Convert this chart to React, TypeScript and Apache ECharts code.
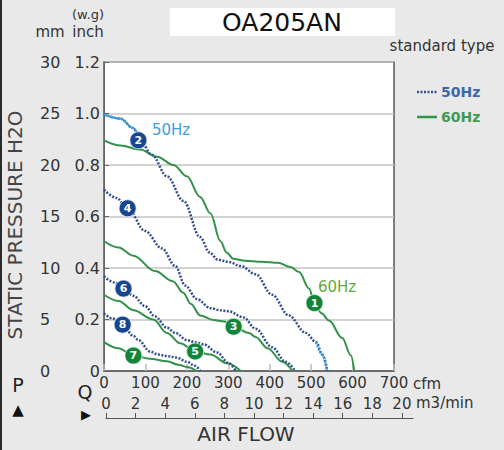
import React, { useEffect, useRef } from "react";
import * as echarts from "echarts";

// ---- data (cfm, mm H2O) ----
const curve1_60Hz = [[0,22.4],[40,21.9],[87,21.5],[128,20.8],[168,20.0],[200,18.9],[232,16.9],[257,15.3],[281,12.6],[296,11.5],[312,10.9],[340,10.7],[380,10.6],[420,10.5],[450,10.1],[471,9.6],[495,8.0],[508,6.6],[525,5.6],[543,4.9],[575,3.2],[596,1.5],[604,0]];
const curve2_50Hz = [[0,24.9],[40,24.5],[70,23.6],[90,22.2],[115,21.0],[152,18.9],[192,16.5],[232,13.0],[255,11.5],[275,10.8],[300,10.6],[330,10.2],[366,9.4],[406,7.4],[446,5.4],[487,3.7],[512,2.8],[527,1.6],[539,0]];
const curve3_60Hz = [[0,12.6],[35,12.0],[71,11.2],[123,9.7],[167,8.7],[191,7.6],[210,6.5],[232,5.4],[264,4.95],[290,4.8],[313,4.3],[350,3.7],[366,3.3],[395,2.2],[430,0.9],[455,0]];
const curve4_50Hz = [[0,17.6],[30,16.8],[57,15.8],[99,13.6],[140,11.9],[172,10.2],[196,8.3],[224,7.0],[257,6.1],[280,5.9],[300,5.8],[337,5.2],[366,4.1],[406,2.3],[438,0.9],[462,0]];
const curve5_60Hz = [[0,7.4],[35,6.8],[71,5.9],[119,5.0],[152,3.7],[184,2.7],[220,1.9],[257,1.6],[297,0.75],[330,0]];
const curve6_50Hz = [[0,9.2],[25,8.6],[47,8.0],[71,7.3],[99,6.3],[123,5.3],[152,4.2],[172,3.7],[200,3.0],[220,2.8],[240,2.6],[273,1.8],[300,0.8],[318,0]];
const curve7_60Hz = [[0,2.8],[35,2.2],[71,1.5],[111,1.2],[152,0.95],[180,0.6],[200,0.4],[224,0]];
const curve8_50Hz = [[0,5.6],[20,5.1],[45,4.5],[71,3.4],[83,3.0],[111,1.9],[130,1.6],[152,1.45],[175,1.3],[200,0.9],[220,0.5],[232,0]];

const markers = [
  { id: "1", hz: 60, at: [508, 6.6] },
  { id: "2", hz: 50, at: [83, 22.4] },
  { id: "3", hz: 60, at: [313, 4.3] },
  { id: "4", hz: 50, at: [57, 15.8] },
  { id: "5", hz: 60, at: [220, 1.9] },
  { id: "6", hz: 50, at: [47, 8.0] },
  { id: "7", hz: 60, at: [71, 1.5] },
  { id: "8", hz: 50, at: [45, 4.5] },
];

const m3Ticks = [0, 2, 4, 6, 8, 10, 12, 14, 16, 18, 20];

const FONT = "DejaVu Sans";
const GREEN = "#33914a";
const NAVY = "#33508c";
const LIGHT = "#3aa0dc";

export default function App() {
  const ref = useRef<HTMLDivElement>(null);
  useEffect(() => {
    if (!ref.current) return;
    const chart = echarts.init(ref.current, undefined, { renderer: "svg" });

    const green = (data: number[][]) => ({
      type: "line", xAxisIndex: 0, yAxisIndex: 0, data, showSymbol: false,
      smooth: 0.35, smoothMonotone: "x",
      lineStyle: { color: GREEN, width: 2 }, z: 3,
    });
    const dotted = (data: number[][], color = NAVY) => ({
      type: "line", xAxisIndex: 0, yAxisIndex: 0, data, showSymbol: false,
      smooth: 0.35, smoothMonotone: "x",
      lineStyle: { color, width: 2.5, type: [2, 1.5], cap: "butt" }, z: 3,
    });

    const option: any = {
      animation: false,
      backgroundColor: "#e9e9e9",
      textStyle: { fontFamily: FONT },
      grid: [
        { left: 104, top: 62, width: 290, height: 309, show: true, backgroundColor: "#ffffff", borderColor: "#555", borderWidth: 1.5 },
        { left: 106, top: 417, width: 307, height: 1, show: false },
      ],
      xAxis: [
        {
          gridIndex: 0, type: "value", position: "bottom", min: 0, max: 700, interval: 100,
          axisLine: { show: true, lineStyle: { color: "#555", width: 1.5 } },
          axisTick: { show: true, inside: true, length: 7, lineStyle: { color: "#bbb", width: 1.5 } },
          axisLabel: { margin: 4, fontSize: 15, color: "#333", fontFamily: FONT },
          splitLine: { show: false },
        },
        {
          gridIndex: 1, type: "value", position: "top", min: 0, max: 20.75,
          axisLine: { show: true, lineStyle: { color: "#555", width: 1 } },
          axisTick: { show: true, length: 5, customValues: m3Ticks, lineStyle: { color: "#555" } },
          axisLabel: { margin: 6, fontSize: 15, color: "#333", fontFamily: FONT, customValues: m3Ticks },
          splitLine: { show: false },
        },
      ],
      yAxis: [
        {
          gridIndex: 0, type: "value", position: "left", offset: 71, min: 0, max: 30, interval: 5,
          axisLine: { show: true, lineStyle: { color: "#666", width: 1 } },
          axisTick: { show: true, inside: true, length: 5, lineStyle: { color: "#666" } },
          axisLabel: { inside: true, margin: 7, fontSize: 16, color: "#333", fontFamily: FONT },
          splitLine: { show: true, lineStyle: { color: "#c4c4c4", width: 1.5 } },
        },
        {
          gridIndex: 0, type: "value", position: "left", offset: 0, min: 0, max: 1.2, interval: 0.2,
          axisLine: { show: false }, axisTick: { show: false },
          axisLabel: { margin: 4, fontSize: 16, color: "#333", fontFamily: FONT,
            formatter: (v: number) => (v === 0 ? "0" : v.toFixed(1)) },
          splitLine: { show: false },
        },
        { gridIndex: 1, type: "value", show: false },
      ],
      series: [
        green(curve7_60Hz),
        dotted(curve8_50Hz),
        green(curve5_60Hz),
        dotted(curve6_50Hz),
        green(curve3_60Hz),
        dotted(curve4_50Hz),
        green(curve1_60Hz),
        dotted(curve2_50Hz),
        {
          type: "line", xAxisIndex: 0, yAxisIndex: 0, showSymbol: false, smooth: 0.35, smoothMonotone: "x",
          data: curve2_50Hz.filter((p) => p[0] <= 90),
          lineStyle: { color: LIGHT, width: 2 }, z: 4,
        },
        { ...dotted(curve2_50Hz.filter((p) => p[0] >= 512), LIGHT), z: 4 },
        {
          type: "scatter", xAxisIndex: 0, yAxisIndex: 0, symbolSize: 17, z: 6,
          data: markers.map((m) => ({
            name: m.id, value: m.at,
            itemStyle: { color: m.hz === 50 ? "#16468f" : "#138538", borderColor: "#dfe8f0", borderWidth: 0.8, opacity: 1 },
          })),
          label: { show: true, position: "inside", formatter: "{b}", color: "#fff", fontSize: 11, fontWeight: "bold", fontFamily: FONT },
        },
      ],
      graphic: [
        { type: "rect", shape: { x: 0, y: 0, width: 2, height: 450 }, style: { fill: "#2a2a2a" } },
        { type: "rect", shape: { x: 170, y: 8, width: 225, height: 28 }, style: { fill: "#ffffff" } },
        { type: "text", x: 282, y: 22, style: { text: "OA205AN", fill: "#111", font: `25px "${FONT}"`, align: "center", verticalAlign: "middle" } },
        { type: "text", x: 88, y: 14, style: { text: "(w.g)", fill: "#333", font: `13px "${FONT}"`, align: "center", verticalAlign: "middle" } },
        { type: "text", x: 50, y: 32, style: { text: "mm", fill: "#333", font: `15px "${FONT}"`, align: "center", verticalAlign: "middle" } },
        { type: "text", x: 88, y: 32, style: { text: "inch", fill: "#333", font: `15px "${FONT}"`, align: "center", verticalAlign: "middle" } },
        { type: "text", x: 15, y: 225, rotation: Math.PI / 2, style: { text: "STATIC PRESSURE H2O", fill: "#444", font: `20px "${FONT}"`, align: "center", verticalAlign: "middle" } },
        { type: "text", x: 442, y: 46, style: { text: "standard type", fill: "#333", font: `15px "${FONT}"`, align: "center", verticalAlign: "middle" } },
        { type: "line", shape: { x1: 417, y1: 92, x2: 437, y2: 92 }, style: { stroke: NAVY, lineWidth: 2.5, lineDash: [2, 1.5] } },
        { type: "text", x: 441, y: 92, style: { text: "50Hz", fill: "#3c68a6", font: `bold 14px "${FONT}"`, align: "left", verticalAlign: "middle" } },
        { type: "line", shape: { x1: 417, y1: 117, x2: 437, y2: 117 }, style: { stroke: GREEN, lineWidth: 2.5 } },
        { type: "text", x: 441, y: 117, style: { text: "60Hz", fill: "#3f9a55", font: `bold 14px "${FONT}"`, align: "left", verticalAlign: "middle" } },
        { type: "text", x: 152, y: 130, style: { text: "50Hz", fill: LIGHT, font: `15px "${FONT}"`, align: "left", verticalAlign: "middle" } },
        { type: "text", x: 318, y: 287, style: { text: "60Hz", fill: "#64a83c", font: `15px "${FONT}"`, align: "left", verticalAlign: "middle" } },
        { type: "text", x: 413, y: 384, style: { text: "cfm", fill: "#333", font: `15px "${FONT}"`, align: "left", verticalAlign: "middle" } },
        { type: "text", x: 416, y: 403, style: { text: "m3/min", fill: "#333", font: `15px "${FONT}"`, align: "left", verticalAlign: "middle" } },
        { type: "text", x: 18, y: 385, style: { text: "P", fill: "#222", font: `19px "${FONT}"`, align: "center", verticalAlign: "middle" } },
        { type: "text", x: 18, y: 410, style: { text: "▲", fill: "#111", font: `15px "${FONT}"`, align: "center", verticalAlign: "middle" } },
        { type: "text", x: 85, y: 392, style: { text: "Q", fill: "#222", font: `19px "${FONT}"`, align: "center", verticalAlign: "middle" } },
        { type: "text", x: 86, y: 414, style: { text: "▶", fill: "#111", font: `13px "${FONT}"`, align: "center", verticalAlign: "middle" } },
        { type: "text", x: 246, y: 434, style: { text: "AIR FLOW", fill: "#333", font: `20px "${FONT}"`, align: "center", verticalAlign: "middle" } },
      ],
    };
    chart.setOption(option);
    return () => chart.dispose();
  }, []);
  return <div ref={ref} style={{ position: "fixed", left: 0, top: 0, width: 504, height: 450 }} />;
}
